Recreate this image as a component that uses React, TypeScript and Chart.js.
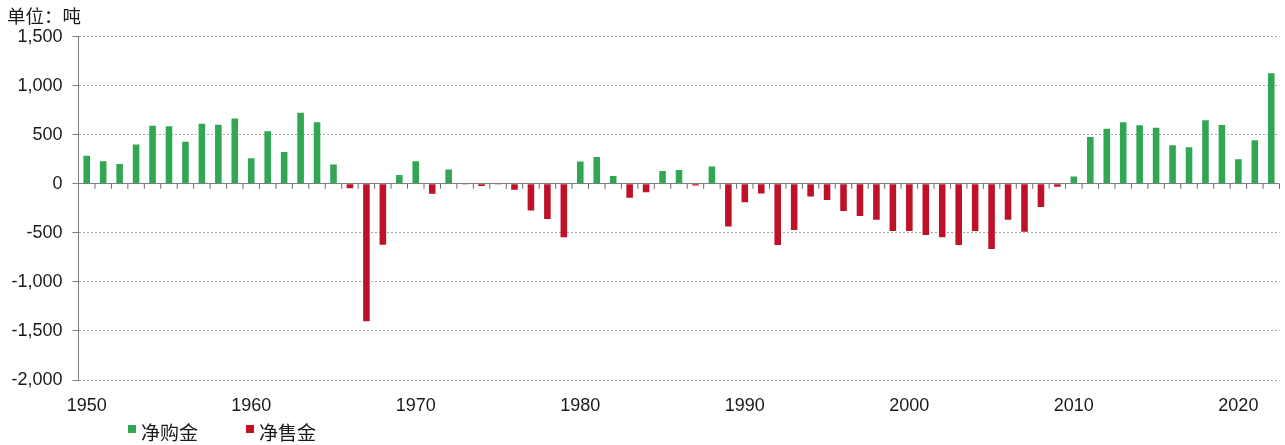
import React, { useEffect, useRef } from "react";
import { Chart, registerables } from "chart.js";

Chart.register(...registerables);

const years: string[] = [];
for (let y = 1950; y <= 2022; y++) years.push(String(y));

// Net official-sector gold purchases (+) / sales (-), tonnes, 1950–2022
const netFlows: number[] = [
  285, 231, 203, 400, 593, 586, 430, 613, 603, 667,
  261, 535, 325, 725, 627, 196, -44, -1400, -620, 91,
  231, -100, 145, -8, -22, -8, -61, -271, -359, -545,
  227, 274, 81, -142, -85, 132, 142, -17, 176, -434,
  -188, -98, -623, -471, -129, -166, -278, -329, -366, -481,
  -481, -522, -545, -623, -481, -664, -366, -488, -237, -30,
  75, 478, 562, 627, 596, 572, 393, 373, 647, 600,
  251, 444, 1128,
];

const seriesNames = ["净购金", "净售金"];
const seriesColors = ["#31a653", "#bf1128"];
const yTicks = { min: -2000, max: 1500, step: 500 };
const unitLabel = "单位：吨";

const purchases = netFlows.map((v) => (v >= 0 ? v : null));
const sales = netFlows.map((v) => (v < 0 ? v : null));

const zeroTicksPlugin = {
  id: "zeroTicks",
  beforeDatasetsDraw(chart: any) {
    const x = chart.scales.x;
    const y = chart.scales.y;
    const ctx = chart.ctx;
    const y0 = y.getPixelForValue(0);
    const n = x.getLabels().length;
    const w = (x.right - x.left) / n;
    ctx.save();
    ctx.strokeStyle = "#6b6b6b";
    ctx.lineWidth = 1;
    ctx.beginPath();
    for (let i = 1; i <= n; i++) {
      const px = x.left + i * w;
      ctx.moveTo(px, y0);
      ctx.lineTo(px, y0 + 5);
    }
    ctx.stroke();
    ctx.restore();
  },
};

export default function App() {
  const canvasRef = useRef<HTMLCanvasElement | null>(null);

  useEffect(() => {
    if (!canvasRef.current) return;
    const chart = new Chart(canvasRef.current, {
      type: "bar",
      data: {
        labels: years,
        datasets: [
          {
            label: seriesNames[0],
            data: purchases,
            backgroundColor: seriesColors[0],
            barPercentage: 0.4,
            categoryPercentage: 1,
          },
          {
            label: seriesNames[1],
            data: sales,
            backgroundColor: seriesColors[1],
            barPercentage: 0.4,
            categoryPercentage: 1,
          },
        ],
      },
      options: {
        responsive: false,
        animation: false,
        layout: { padding: { left: 0, right: 5.5, top: 36.7, bottom: 15 } },
        plugins: {
          legend: { display: false },
          tooltip: { enabled: false },
          title: { display: false },
        },
        scales: {
          x: {
            type: "category",
            stacked: true,
            grid: { display: false },
            border: { display: false },
            afterFit: (s: any) => {
              s.height = 50;
            },
            ticks: {
              autoSkip: false,
              maxRotation: 0,
              minRotation: 0,
              padding: 7,
              color: "#1a1a1a",
              font: { family: "'Liberation Sans', Arial, sans-serif", size: 18 },
              callback: (_v: any, i: number) =>
                Number(years[i]) % 10 === 0 ? years[i] : "",
            },
          },
          y: {
            stacked: true,
            min: yTicks.min,
            max: yTicks.max,
            afterFit: (s: any) => {
              s.width = 78.5;
            },
            ticks: {
              stepSize: yTicks.step,
              padding: 10,
              color: "#1a1a1a",
              font: { family: "'Liberation Sans', Arial, sans-serif", size: 18 },
              callback: (v: any) => Number(v).toLocaleString("en-US"),
            },
            grid: {
              color: (c: any) =>
                c.tick && c.tick.value === 0 ? "#7f7f7f" : "#a6a6a6",
              lineWidth: 1,
              drawTicks: true,
              tickLength: 6,
              tickColor: "#7f7f7f",
            },
            border: {
              display: true,
              color: "#7f7f7f",
              width: 1,
              dash: (c: any) =>
                c.tick && c.tick.value === 0 ? [] : [2, 2],
            },
          },
        },
      },
      plugins: [zeroTicksPlugin],
    });
    return () => chart.destroy();
  }, []);

  const legendText: React.CSSProperties = {
    position: "absolute",
    top: 421,
    fontFamily: "'Noto Sans CJK SC', sans-serif",
    fontSize: 19,
    lineHeight: "21px",
    color: "#1a1a1a",
    whiteSpace: "nowrap",
  };
  const square = (color: string, left: number): React.CSSProperties => ({
    position: "absolute",
    left,
    top: 425,
    width: 8,
    height: 8,
    background: color,
  });

  return (
    <div
      style={{
        position: "absolute",
        left: 0,
        top: 0,
        width: 1285,
        height: 445,
        background: "#fff",
        overflow: "hidden",
      }}
    >
      <canvas
        ref={canvasRef}
        width={1285}
        height={445}
        style={{ position: "absolute", left: 0, top: 0, width: 1285, height: 445 }}
      />
      <div
        style={{
          position: "absolute",
          left: 7,
          top: 4,
          fontFamily: "'Noto Sans CJK SC', sans-serif",
          fontSize: 18.5,
          lineHeight: "22px",
          color: "#1a1a1a",
          whiteSpace: "nowrap",
        }}
      >
        {unitLabel}
      </div>
      <div style={square(seriesColors[0], 128)} />
      <div style={{ ...legendText, left: 141 }}>{seriesNames[0]}</div>
      <div style={square(seriesColors[1], 246)} />
      <div style={{ ...legendText, left: 259 }}>{seriesNames[1]}</div>
    </div>
  );
}
